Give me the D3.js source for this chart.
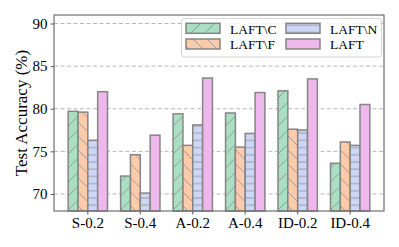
<!DOCTYPE html>
<html>
<head>
<meta charset="utf-8">
<script src="https://cdn.jsdelivr.net/npm/d3@7"></script>
<style>
  body { margin: 0; background: #fff; }
  svg { display: block; font-family: "Liberation Serif", "Times New Roman", serif; }
</style>
</head>
<body>
<svg id="chart" width="399" height="247"></svg>
<script>
// data
const categories = ['S-0.2', 'S-0.4', 'A-0.2', 'A-0.4', 'ID-0.2', 'ID-0.4'];
const seriesNames = ['LAFT\\C', 'LAFT\\F', 'LAFT\\N', 'LAFT'];
const laftC = [79.7, 72.1, 79.4, 79.5, 82.1, 73.6];
const laftF = [79.6, 74.6, 75.7, 75.5, 77.6, 76.1];
const laftN = [76.3, 70.1, 78.1, 77.1, 77.5, 75.7];
const laft  = [82.0, 76.9, 83.6, 81.9, 83.5, 80.5];
const yTicks = [70, 75, 80, 85, 90];

const allSeries = [laftC, laftF, laftN, laft];
const fills = ['#aadfc3', '#fdcbaa', '#cdd6f6', '#efb8ec'];
const hatches = ['fwd', 'back', 'horiz', null];
const edge = '#858585';

const svg = d3.select('#chart');
const margin = {left: 54, right: 15, top: 15, bottom: 36};
const W = 399, H = 247;

const x = d3.scaleBand()
  .domain(categories)
  .range([margin.left, W - margin.right])
  .paddingInner(0.25)
  .paddingOuter(0.27);

const xSub = d3.scaleBand()
  .domain(d3.range(seriesNames.length))
  .range([0, x.bandwidth()]);

const y = d3.scaleLinear()
  .domain([68, 91])
  .range([H - margin.bottom, margin.top]);

// hatch patterns
const defs = svg.append('defs');
function makePattern(id, kind, fill) {
  const s = 14;
  const p = defs.append('pattern')
    .attr('id', id)
    .attr('patternUnits', 'userSpaceOnUse')
    .attr('width', kind === 'horiz' ? 10 : s)
    .attr('height', kind === 'horiz' ? 7.2 : s);
  p.append('rect').attr('width', 20).attr('height', 20).attr('fill', fill);
  const ln = (x1, y1, x2, y2) => p.append('line')
    .attr('x1', x1).attr('y1', y1).attr('x2', x2).attr('y2', y2)
    .attr('stroke', '#8c8c8c').attr('stroke-width', 0.8);
  if (kind === 'fwd') {
    ln(0, s, s, 0); ln(-s, s, 0, 0); ln(s, s, 2 * s, 0);
  } else if (kind === 'back') {
    ln(0, 0, s, s); ln(-s, 0, 0, s); ln(s, 0, 2 * s, s);
  } else if (kind === 'horiz') {
    ln(0, 3.6, 10, 3.6);
  }
}
fills.forEach((f, i) => {
  if (hatches[i]) makePattern('h' + i, hatches[i], f);
});
const fillOf = i => hatches[i] ? `url(#h${i})` : fills[i];

// grid
svg.append('g')
  .selectAll('line')
  .data(yTicks)
  .join('line')
  .attr('x1', margin.left).attr('x2', W - margin.right)
  .attr('y1', d => y(d)).attr('y2', d => y(d))
  .attr('stroke', '#b8b8b8')
  .attr('stroke-width', 1)
  .attr('stroke-dasharray', '4,2.5');

// bars
const groups = svg.append('g')
  .selectAll('g')
  .data(categories)
  .join('g')
  .attr('transform', d => `translate(${x(d)},0)`);

groups.selectAll('rect')
  .data((d, ci) => allSeries.map((s, si) => ({si, v: s[ci]})))
  .join('rect')
  .attr('x', d => xSub(d.si))
  .attr('width', xSub.bandwidth())
  .attr('y', d => y(d.v))
  .attr('height', d => y(68) - y(d.v))
  .attr('fill', d => fillOf(d.si))
  .attr('stroke', edge)
  .attr('stroke-width', 1.5);

// axes
const yAxis = svg.append('g')
  .attr('transform', `translate(${margin.left},0)`)
  .call(d3.axisLeft(y).tickValues(yTicks).tickSize(3.5).tickPadding(3));
yAxis.select('.domain').remove();
yAxis.selectAll('.tick line').attr('stroke', '#555');
yAxis.selectAll('text')
  .attr('fill', '#000')
  .style('font-size', '15px')
  .style('font-family', '"Liberation Serif", serif');

const xAxis = svg.append('g')
  .attr('transform', `translate(0,${H - margin.bottom})`)
  .call(d3.axisBottom(x).tickSize(3.5).tickPadding(2.5));
xAxis.select('.domain').remove();
xAxis.selectAll('.tick line').attr('stroke', '#555');
xAxis.selectAll('text')
  .attr('fill', '#000')
  .style('font-size', '15px')
  .style('font-family', '"Liberation Serif", serif');

// frame
svg.append('rect')
  .attr('x', margin.left).attr('y', margin.top)
  .attr('width', W - margin.left - margin.right)
  .attr('height', H - margin.top - margin.bottom)
  .attr('fill', 'none')
  .attr('stroke', '#6e6e6e')
  .attr('stroke-width', 1.2);

// y label
svg.append('text')
  .attr('transform', `translate(27,${(margin.top + H - margin.bottom) / 2}) rotate(-90)`)
  .attr('text-anchor', 'middle')
  .style('font-size', '17px')
  .text('Test Accuracy (%)');

// legend
const lg = svg.append('g');
lg.append('rect')
  .attr('x', 181.5).attr('y', 18.5)
  .attr('width', 200).attr('height', 38.5)
  .attr('rx', 3)
  .attr('fill', 'rgba(255,255,255,0.85)')
  .attr('stroke', '#d4d4d4');

const colX = [186, 286];
const rowY = [23.3, 39];
seriesNames.forEach((name, i) => {
  const cx = colX[Math.floor(i / 2)];
  const ry = rowY[i % 2];
  lg.append('rect')
    .attr('x', cx).attr('y', ry)
    .attr('width', 34).attr('height', 10)
    .attr('fill', fillOf(i))
    .attr('stroke', edge)
    .attr('stroke-width', 1.5);
  lg.append('text')
    .attr('x', cx + 44).attr('y', ry + 10.3)
    .style('font-size', '13.5px')
    .text(name);
});
</script>
</body>
</html>
